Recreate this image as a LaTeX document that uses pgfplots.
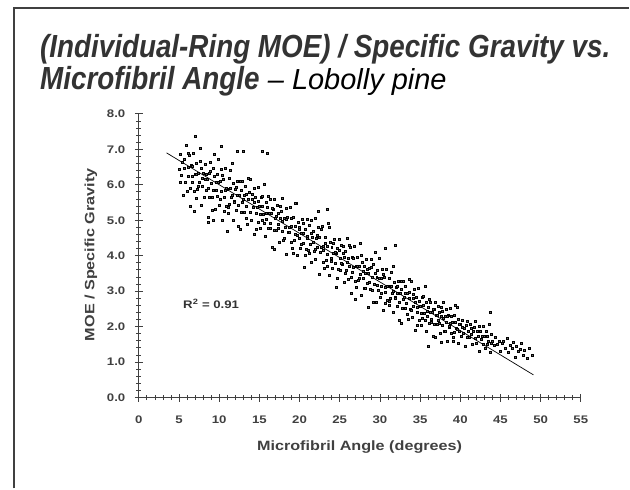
\documentclass[border=0pt]{standalone}
\usepackage{fontspec}
\setmainfont{Liberation Sans}
\newfontfamily\titlefont[FakeStretch=0.87]{Liberation Sans}
\newfontfamily\axfont[FakeStretch=1.2]{Liberation Sans}
\usepackage{pgfplots}
\pgfplotsset{compat=1.18}
\definecolor{ink}{gray}{0.25}
\begin{document}
\begin{tikzpicture}
\fill[white] (0pt,0pt) rectangle (630pt,489pt);
\draw[ink, line width=1.5pt] (14pt,0pt) -- (14pt,481pt) -- (630pt,481pt);
\node[anchor=base west, inner sep=0pt, text=black!80] at (40pt,431pt) {\titlefont\bfseries\itshape\fontsize{32}{36}\selectfont (Individual-Ring MOE) / Specific Gravity vs.};
\node[anchor=base west, inner sep=0pt, text=black!80] at (40pt,399pt) {\titlefont\bfseries\itshape\fontsize{32}{36}\selectfont Microfibril Angle};
\node[anchor=base west, inner sep=0pt] at (268pt,399pt) {\itshape\fontsize{29}{33}\selectfont – Lobolly pine};
\node[font=\axfont\bfseries\fontsize{13.5}{15}\selectfont, text=black!75] at (360pt,41pt) {Microfibril Angle (degrees)};
\node[rotate=90, font=\axfont\bfseries\fontsize{13.5}{15}\selectfont, text=black!75] at (91pt,234pt) {MOE / Specific Gravity};
\begin{axis}[
  at={(139pt,91pt)}, anchor=south west,
  width=442.5pt, height=284pt, scale only axis,
  xmin=0, xmax=55, ymin=0, ymax=8,
  axis x line*=bottom, axis y line*=left,
  axis line style={ink, line width=1.1pt},
  xtick={0,5,...,55}, ytick={0,1,...,8},
  minor x tick num=4, minor y tick num=4,
  tick align=center,
  major tick length=8pt, minor tick length=5pt,
  tick style={ink, line width=0.8pt},
  /pgf/number format/assume math mode=true,
  ticklabel style={font=\axfont\bfseries\fontsize{11}{13}\selectfont, text=black!75},
  x tick label style={yshift=-11pt},
  y tick label style={xshift=-6pt},
  yticklabel={\pgfmathprintnumber[fixed,fixed zerofill,precision=1]{\tick}},
  clip=false,
]
\addplot[only marks, mark=square*, mark size=1.0pt, mark options={draw=none, fill=black!60}] table {
x y
5.0 6.45
5.1 6.06
5.2 6.87
5.3 6.26
5.4 6.63
5.5 5.70
5.6 6.48
5.7 6.71
5.8 6.08
5.9 7.12
6.0 5.82
6.1 6.50
6.2 6.23
6.3 6.84
6.4 5.40
6.5 6.56
6.6 6.07
6.7 6.25
6.8 6.90
6.9 5.81
7.0 6.30
7.1 5.62
7.2 6.61
7.3 5.88
7.4 6.33
7.5 6.07
7.6 7.04
7.7 5.42
7.8 6.48
7.9 5.97
8.0 6.34
8.1 5.66
8.2 6.16
8.3 6.59
8.4 5.85
8.5 6.16
8.6 5.09
8.7 6.32
8.8 5.66
8.9 6.63
9.0 6.05
9.1 5.66
9.2 6.47
9.3 5.86
9.4 6.23
9.5 5.30
9.6 6.08
9.7 6.31
9.8 5.68
9.9 6.72
10.0 5.42
10.1 6.10
10.2 5.83
10.3 6.43
10.4 4.99
10.5 6.15
10.6 5.66
10.7 5.84
10.8 6.48
10.9 5.39
11.0 5.88
11.1 5.20
11.2 6.19
11.3 5.45
11.4 5.90
11.5 5.64
11.6 6.61
11.7 4.99
11.8 6.04
11.9 5.53
12.0 5.87
12.1 5.27
12.2 5.71
12.3 6.09
12.4 5.42
12.5 5.70
12.6 4.74
12.7 5.84
12.8 5.24
12.9 6.10
13.0 5.58
13.1 5.23
13.2 5.96
13.3 5.40
13.4 5.73
13.5 4.90
13.6 5.60
13.7 5.80
13.8 5.23
13.9 6.15
14.0 4.99
14.1 5.60
14.2 5.36
14.3 5.89
14.4 4.60
14.5 5.64
14.6 5.20
14.7 5.36
14.8 5.93
14.9 4.95
15.0 5.39
15.1 4.78
15.2 5.65
15.3 5.00
15.4 5.39
15.5 5.16
15.6 6.03
15.7 4.56
15.8 5.51
15.9 5.04
16.0 5.37
16.1 4.77
16.2 5.20
16.3 5.59
16.4 4.91
16.5 5.19
16.6 4.23
16.7 5.32
16.8 4.73
16.9 5.58
17.0 5.06
17.1 4.71
17.2 5.43
17.3 4.88
17.4 5.20
17.5 4.37
17.6 5.07
17.7 5.26
17.8 4.70
17.9 5.61
18.0 4.45
18.1 5.06
18.2 4.81
18.3 5.35
18.4 4.05
18.5 5.09
18.6 4.65
18.7 4.80
18.8 5.38
18.9 4.39
19.0 4.83
19.1 4.22
19.2 5.09
19.3 4.44
19.4 4.83
19.5 4.60
19.6 5.47
19.7 4.00
19.8 4.95
19.9 4.48
20.0 4.81
20.1 4.21
20.2 4.64
20.3 5.03
20.4 4.35
20.5 4.63
20.6 3.67
20.7 4.76
20.8 4.17
20.9 5.02
21.0 4.50
21.1 4.15
21.2 4.87
21.3 4.32
21.4 4.64
21.5 3.81
21.6 4.51
21.7 4.70
21.8 4.14
21.9 5.05
22.0 3.89
22.1 4.50
22.2 4.25
22.3 4.79
22.4 3.49
22.5 4.53
22.6 4.09
22.7 4.24
22.8 4.82
22.9 3.83
23.0 4.27
23.1 3.66
23.2 4.53
23.3 3.88
23.4 4.27
23.5 4.04
23.6 4.91
23.7 3.44
23.8 4.39
23.9 3.92
24.0 4.25
24.1 3.65
24.2 4.08
24.3 4.47
24.4 3.79
24.5 4.07
24.6 3.11
24.7 4.20
24.8 3.61
24.9 4.46
25.0 3.94
25.1 3.59
25.2 4.31
25.3 3.76
25.4 4.08
25.5 3.25
25.6 3.95
25.7 4.14
25.8 3.58
25.9 4.49
26.0 3.33
26.1 3.94
26.2 3.69
26.3 4.23
26.4 2.93
26.5 3.97
26.6 3.53
26.7 3.68
26.8 4.26
26.9 3.27
27.0 3.71
27.1 3.10
27.2 3.97
27.3 3.32
27.4 3.71
27.5 3.48
27.6 4.35
27.7 2.88
27.8 3.83
27.9 3.36
28.0 3.69
28.1 3.09
28.2 3.52
28.3 3.91
28.4 3.23
28.5 3.51
28.6 2.55
28.7 3.64
28.8 3.05
28.9 3.90
29.0 3.38
29.1 3.03
29.2 3.75
29.3 3.20
29.4 3.52
29.5 2.69
29.6 3.39
29.7 3.58
29.8 3.02
29.9 3.93
30.0 2.82
30.1 3.36
30.2 3.13
30.3 3.61
30.4 2.46
30.5 3.38
30.6 2.98
30.7 3.12
30.8 3.63
30.9 2.75
31.0 3.14
31.1 2.60
31.2 3.37
31.3 2.79
31.4 3.14
31.5 2.93
31.6 3.69
31.7 2.40
31.8 3.24
31.9 2.82
32.0 3.11
32.1 2.57
32.2 2.95
32.3 3.29
32.4 2.69
32.5 2.94
32.6 2.09
32.7 3.05
32.8 2.52
32.9 3.28
33.0 2.82
33.1 2.51
33.2 3.14
33.3 2.65
33.4 2.93
33.5 2.20
33.6 2.81
33.7 2.98
33.8 2.48
33.9 3.29
34.0 2.26
34.1 2.80
34.2 2.57
34.3 3.05
34.4 1.90
34.5 2.82
34.6 2.42
34.7 2.56
34.8 3.07
34.9 2.19
35.0 2.58
35.1 2.04
35.2 2.82
35.3 2.24
35.4 2.60
35.5 2.39
35.6 3.14
35.7 1.86
35.8 2.70
35.9 2.29
36.0 2.54
36.1 2.11
36.2 2.42
36.3 2.69
36.4 2.22
36.5 2.41
36.6 1.72
36.7 2.49
36.8 2.07
36.9 2.68
37.0 2.31
37.1 2.06
37.2 2.57
37.3 2.18
37.4 2.41
37.5 1.82
37.6 2.30
37.7 2.44
37.8 2.04
37.9 2.69
38.0 1.87
38.1 2.29
38.2 2.12
38.3 2.50
38.4 1.59
38.5 2.32
38.6 1.99
38.7 2.10
38.8 2.51
38.9 1.82
39.0 2.12
39.1 1.69
39.2 2.31
39.3 1.85
39.4 2.13
39.5 1.96
39.6 2.56
39.7 1.53
39.8 2.20
39.9 1.87
40.0 2.06
40.1 1.74
40.2 1.97
40.3 2.17
40.4 1.81
40.5 1.96
40.6 1.45
40.7 2.03
40.8 1.71
40.9 2.16
41.0 1.88
41.1 1.69
41.2 2.07
41.3 1.78
41.4 1.95
41.5 1.51
41.6 1.88
41.7 1.98
41.8 1.68
41.9 2.16
42.0 1.54
42.1 1.86
42.2 1.73
42.3 2.01
42.4 1.32
42.5 1.88
42.6 1.64
42.7 1.72
42.8 2.02
42.9 1.50
43.0 1.73
43.1 1.40
43.2 1.86
43.3 1.51
43.4 1.72
43.5 1.60
43.6 2.06
43.7 1.28
43.8 1.78
43.9 1.53
44.0 1.60
44.2 1.47
44.4 1.70
44.6 1.51
44.8 1.60
45.0 1.31
45.2 1.53
45.4 1.58
45.6 1.39
45.8 1.68
46.0 1.29
46.2 1.48
46.4 1.40
46.6 1.56
46.8 1.13
47.0 1.46
47.2 1.31
47.4 1.35
47.6 1.53
47.8 1.19
48.0 1.33
48.3 1.12
48.6 1.40
48.9 1.18
6.15 6.90
6.40 5.90
6.65 6.52
6.90 5.26
7.15 6.30
7.40 5.95
7.65 6.66
7.90 6.19
8.15 5.66
8.40 6.30
8.65 5.89
8.90 6.37
9.15 5.27
9.40 6.86
9.65 5.86
9.90 6.08
10.15 5.59
10.40 6.28
10.65 5.25
10.90 5.89
11.15 5.36
11.40 6.41
11.65 5.72
11.90 5.50
12.15 5.92
12.40 4.84
12.65 6.09
12.90 5.51
13.15 5.71
13.40 5.06
13.65 6.18
13.90 5.22
14.15 5.74
14.40 5.50
14.65 4.76
14.90 5.55
15.15 5.18
15.40 5.68
15.65 4.91
15.90 5.21
16.15 5.69
16.40 4.78
16.65 5.33
16.90 4.18
17.15 5.10
17.40 4.77
17.65 5.40
17.90 4.96
18.15 4.48
18.40 5.03
18.65 4.66
18.90 5.07
19.15 4.08
19.40 5.49
19.65 4.58
19.90 4.76
20.15 4.32
20.40 4.92
20.65 4.00
20.90 4.56
21.15 4.08
21.40 5.01
21.65 4.39
21.90 4.18
22.15 4.58
22.40 3.49
22.65 4.74
22.90 4.15
23.15 4.35
23.40 3.69
23.65 4.81
23.90 3.84
24.15 4.36
24.40 4.11
24.65 3.37
24.90 4.15
25.15 3.78
25.40 4.28
25.65 3.51
25.90 3.81
26.15 4.29
26.40 3.38
26.65 3.93
26.90 2.78
27.15 3.70
27.40 3.37
27.65 4.00
27.90 3.56
28.15 3.08
28.40 3.63
28.65 3.26
28.90 3.67
29.15 2.68
29.40 4.09
29.65 3.18
29.90 3.36
30.15 2.95
30.40 3.48
30.65 2.66
30.90 3.15
31.15 2.72
31.40 3.54
31.65 2.99
31.90 2.80
32.15 3.15
32.40 2.19
32.65 3.28
32.90 2.76
33.15 2.93
33.40 2.35
33.65 3.33
33.90 2.47
34.15 2.92
34.40 2.70
34.65 2.04
34.90 2.72
35.15 2.39
35.40 2.85
35.65 2.17
35.90 2.44
36.15 2.76
36.40 2.12
36.65 2.50
36.90 1.69
37.15 2.33
37.40 2.10
37.65 2.54
37.90 2.23
38.15 1.88
38.40 2.28
38.65 2.01
38.90 2.30
39.15 1.59
39.40 2.59
39.65 1.94
39.90 2.07
7.0 7.38
10.2 7.08
13.0 6.94
15.3 6.94
12.2 6.95
16.0 6.90
23.5 5.30
22.3 5.25
31.9 4.30
30.7 4.20
43.7 2.40
36.0 1.45
37.6 1.55
8.6 4.95
9.2 5.00
11.0 4.70
};
\addplot[black, line width=0.7pt] coordinates {(3.45,6.90) (49.1,0.64)};
\node[font=\axfont\bfseries\fontsize{11}{13}\selectfont, text=black!80] at (axis cs:9,2.63) {R\textsuperscript{2} = 0.91};
\end{axis}
\end{tikzpicture}
\end{document}
